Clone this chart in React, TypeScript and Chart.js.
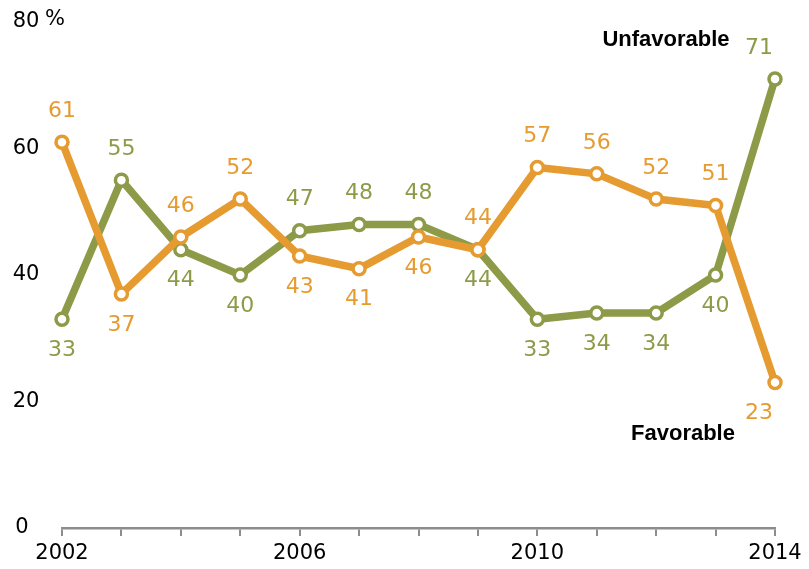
import React, { useEffect, useRef } from "react";
import { Chart, registerables } from "chart.js";

Chart.register(...registerables);

const years = ["2002", "2003", "2004", "2005", "2006", "2007", "2008", "2009", "2010", "2011", "2012", "2013", "2014"];
const favorable = [61, 37, 46, 52, 43, 41, 46, 44, 57, 56, 52, 51, 23];
const unfavorable = [33, 55, 44, 40, 47, 48, 48, 44, 33, 34, 34, 40, 71];
// label placement: 1 = above, -1 = below
const favorablePos = [1, -1, 1, 1, -1, -1, -1, 1, 1, 1, 1, 1, -1];
const unfavorablePos = [-1, 1, -1, -1, 1, 1, 1, -1, -1, -1, -1, -1, 1];
const shownYears = ["2002", "2006", "2010", "2014"];
const yTicks = [0, 20, 40, 60, 80];

const ORANGE = "#E69B31";
const GREEN = "#8D9B49";
const AXIS = "#8C8C8C";
const NUM_FONT = "'DejaVu Sans', sans-serif";

const labelPlugin = {
  id: "labels",
  afterDatasetsDraw(chart: any) {
    const ctx = chart.ctx;
    ctx.save();
    const sets = [
      { idx: 0, pos: favorablePos, color: ORANGE, data: favorable },
      { idx: 1, pos: unfavorablePos, color: GREEN, data: unfavorable },
    ];
    ctx.font = `22px ${NUM_FONT}`;
    ctx.textAlign = "center";
    ctx.textBaseline = "middle";
    sets.forEach((s) => {
      const meta = chart.getDatasetMeta(s.idx);
      meta.data.forEach((pt: any, i: number) => {
        ctx.fillStyle = s.color;
        const dx = i === s.data.length - 1 ? -16 : 0;
        ctx.fillText(String(s.data[i]), pt.x + dx, pt.y - s.pos[i] * 31);
      });
    });
    // y-axis tick labels
    const y = chart.scales.y;
    ctx.fillStyle = "#000";
    ctx.font = `21px ${NUM_FONT}`;
    ctx.textAlign = "center";
    yTicks.forEach((v) => {
      ctx.fillText(String(v), v === 0 ? 22 : 26, y.getPixelForValue(v));
    });
    ctx.textAlign = "left";
    ctx.fillText("%", 45, y.getPixelForValue(80) - 2);
    // series names
    ctx.font = "bold 22px 'Liberation Sans', Arial, sans-serif";
    ctx.textAlign = "center";
    ctx.fillText("Unfavorable", 666, 40);
    ctx.fillText("Favorable", 683, 434);
    ctx.restore();
  },
};

export default function App() {
  const ref = useRef<HTMLCanvasElement>(null);
  useEffect(() => {
    if (!ref.current) return;
    const mk = (label: string, data: number[], color: string) => ({
      label,
      data,
      borderColor: color,
      backgroundColor: "#fff",
      borderWidth: 7.5,
      pointRadius: 6,
      pointBorderWidth: 3.5,
      pointBorderColor: color,
      pointBackgroundColor: "#fff",
      tension: 0,
    });
    const chart = new Chart(ref.current, {
      type: "line",
      data: {
        labels: years,
        datasets: [mk("Favorable", favorable, ORANGE), mk("Unfavorable", unfavorable, GREEN)],
      },
      options: {
        responsive: false,
        animation: false,
        maintainAspectRatio: false,
        layout: { padding: { top: 22, right: 34, left: 0, bottom: 0 } },
        plugins: { legend: { display: false }, tooltip: { enabled: false } },
        scales: {
          x: {
            type: "category",
            offset: false,
            grid: {
              display: true,
              drawOnChartArea: false,
              drawTicks: true,
              tickLength: 8,
              color: AXIS,
              lineWidth: 2,
            },
            border: { display: true, color: AXIS, width: 2.5 },
            ticks: {
              autoSkip: false,
              maxRotation: 0,
              padding: 5,
              color: "#000",
              font: { family: NUM_FONT, size: 21 },
              callback: (_v: any, i: number) => (shownYears.includes(years[i]) ? years[i] : ""),
            },
            afterFit: (s: any) => {
              s.height = 41;
            },
          },
          y: {
            min: 0,
            max: 80,
            afterBuildTicks: (s: any) => {
              s.ticks = yTicks.map((v) => ({ value: v }));
            },
            grid: { display: false, drawTicks: false },
            border: { display: false },
            ticks: { display: false, padding: 0 },
            afterFit: (s: any) => {
              s.width = 62;
            },
          },
        },
      },
      plugins: [labelPlugin],
    });
    return () => chart.destroy();
  }, []);
  return (
    <div style={{ position: "fixed", left: 0, top: 0, width: 809, height: 569, background: "#fff" }}>
      <canvas ref={ref} width={809} height={569} style={{ width: 809, height: 569 }} />
    </div>
  );
}
